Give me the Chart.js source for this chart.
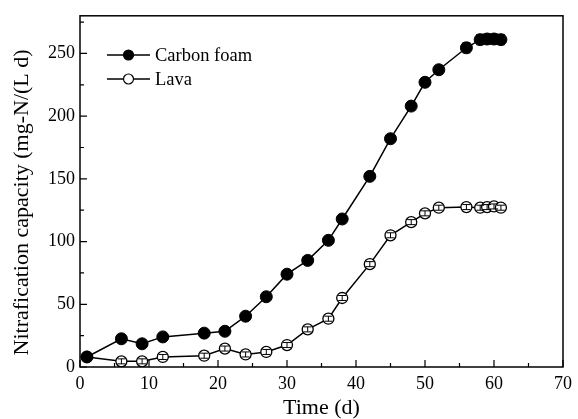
<!DOCTYPE html>
<html>
<head>
<meta charset="utf-8">
<script src="https://cdn.jsdelivr.net/npm/chart.js@4.4.1/dist/chart.umd.min.js"></script>
<style>
  body { margin: 0; background: #fff; }
  #wrap { width: 578px; height: 419px; }
</style>
</head>
<body>
<div id="wrap"><canvas id="nitriChart"></canvas></div>
<script>
const days = [1, 6, 9, 12, 18, 21, 24, 27, 30, 33, 36, 38, 42, 45, 48, 50, 52, 56, 58, 59, 60, 61];
const carbonFoam = [8, 22.5, 18.5, 24, 27, 28.5, 40.5, 56, 74, 85, 101, 118, 152, 182, 208, 227, 237, 254.5, 261, 261.5, 261.5, 261];
const carbonErr = [1, 1.5, 1.5, 1.5, 1.5, 1.5, 1.5, 2, 2, 2, 2, 2, 2, 2.5, 3, 3.5, 3.5, 4, 4, 4, 4, 4];
const lava = [8, 4.5, 4.5, 8, 9, 14.7, 10, 12, 17.5, 30, 38.5, 55, 82, 105, 115.5, 122.5, 127, 127.5, 127, 127.5, 128, 127];
const lavaErr = [2, 2, 2, 2, 2, 2, 2, 2, 2, 2, 2, 2, 2, 2, 2, 2, 2, 2, 2, 2, 2, 2];
const xTicks = [0, 10, 20, 30, 40, 50, 60, 70];
const yTicks = [0, 50, 100, 150, 200, 250];

const serif = "'Liberation Serif', 'DejaVu Serif', serif";

const toPoints = (ys) => ys.map((y, i) => ({ x: days[i], y: y }));

// error bars, inward ticks, frame and the little legend
const extras = {
  id: "extras",
  afterDatasetsDraw(chart) {
    const ctx = chart.ctx;
    const xs = chart.scales.x;
    const ys = chart.scales.y;
    const errs = [carbonErr, lavaErr];
    const vals = [carbonFoam, lava];
    ctx.save();
    ctx.strokeStyle = "#000";
    ctx.lineWidth = 1;
    for (let d = 0; d < 2; d++) {
      for (let i = 0; i < days.length; i++) {
        const px = xs.getPixelForValue(days[i]);
        const top = ys.getPixelForValue(vals[d][i] + errs[d][i]);
        const bot = ys.getPixelForValue(vals[d][i] - errs[d][i]);
        ctx.beginPath();
        ctx.moveTo(px, top); ctx.lineTo(px, bot);
        ctx.moveTo(px - 4, top); ctx.lineTo(px + 4, top);
        ctx.moveTo(px - 4, bot); ctx.lineTo(px + 4, bot);
        ctx.stroke();
      }
    }
    ctx.restore();
  },
  afterDraw(chart) {
    const ctx = chart.ctx;
    const a = chart.chartArea;
    const xs = chart.scales.x;
    const ys = chart.scales.y;
    ctx.save();
    ctx.strokeStyle = "#000";
    ctx.lineWidth = 1.5;
    ctx.strokeRect(a.left, a.top, a.right - a.left, a.bottom - a.top);
    ctx.lineWidth = 1.2;
    ctx.beginPath();
    for (let v = 0; v <= 70; v += 5) {
      const px = xs.getPixelForValue(v);
      const len = v % 10 === 0 ? 7 : 4;
      ctx.moveTo(px, a.bottom); ctx.lineTo(px, a.bottom - len);
    }
    for (let v = 0; v <= 275; v += 25) {
      const py = ys.getPixelForValue(v);
      const len = v % 50 === 0 ? 7 : 4;
      ctx.moveTo(a.left, py); ctx.lineTo(a.left + len, py);
    }
    ctx.stroke();

    // legend
    const items = [
      { label: "Carbon foam", fill: "#000", y: 55 },
      { label: "Lava", fill: "#fff", y: 79 }
    ];
    ctx.font = "18.5px " + serif;
    ctx.textBaseline = "middle";
    ctx.fillStyle = "#000";
    items.forEach((it) => {
      ctx.lineWidth = 1.5;
      ctx.beginPath();
      ctx.moveTo(107, it.y); ctx.lineTo(150, it.y);
      ctx.stroke();
      ctx.beginPath();
      ctx.arc(128.5, it.y, 5, 0, Math.PI * 2);
      ctx.fillStyle = it.fill;
      ctx.fill();
      ctx.lineWidth = 1.2;
      ctx.stroke();
      ctx.fillStyle = "#000";
      ctx.fillText(it.label, 155, it.y + 1);
    });
    ctx.restore();
  }
};

new Chart(document.getElementById("nitriChart"), {
  type: "scatter",
  data: {
    datasets: [
      {
        label: "Carbon foam",
        data: toPoints(carbonFoam),
        showLine: true,
        borderColor: "#000",
        borderWidth: 1.5,
        pointBackgroundColor: "#000",
        pointBorderColor: "#000",
        pointRadius: 6,
        pointBorderWidth: 1
      },
      {
        label: "Lava",
        data: toPoints(lava),
        showLine: true,
        borderColor: "#000",
        borderWidth: 1.5,
        pointBackgroundColor: "#fff",
        pointBorderColor: "#000",
        pointRadius: 5.5,
        pointBorderWidth: 1.3
      }
    ]
  },
  options: {
    responsive: true,
    maintainAspectRatio: false,
    animation: false,
    layout: { padding: { left: 0, right: 15, top: 12, bottom: 0 } },
    plugins: {
      legend: { display: false },
      tooltip: { enabled: false }
    },
    scales: {
      x: {
        type: "linear",
        min: 0,
        max: 70,
        afterBuildTicks: (s) => { s.ticks = xTicks.map((v) => ({ value: v })); },
        afterFit: (s) => { s.height = 52; },
        grid: { display: false, drawTicks: false },
        border: { display: false },
        ticks: {
          color: "#000",
          padding: 6,
          font: { family: serif, size: 18 }
        },
        title: {
          display: true,
          text: "Time (d)",
          color: "#000",
          padding: { top: 0, bottom: 0 },
          font: { family: serif, size: 22, lineHeight: 1.0 }
        }
      },
      y: {
        min: 0,
        max: 280,
        afterBuildTicks: (s) => { s.ticks = yTicks.map((v) => ({ value: v })); },
        afterFit: (s) => { s.width = 80; },
        grid: { display: false, drawTicks: false },
        border: { display: false },
        ticks: {
          color: "#000",
          padding: 5,
          font: { family: serif, size: 18 }
        },
        title: {
          display: true,
          text: "Nitrafication capacity (mg-N/(L d)    ",
          color: "#000",
          padding: { top: 9, bottom: 0 },
          font: { family: serif, size: 22 }
        }
      }
    }
  },
  plugins: [extras]
});
</script>
</body>
</html>
